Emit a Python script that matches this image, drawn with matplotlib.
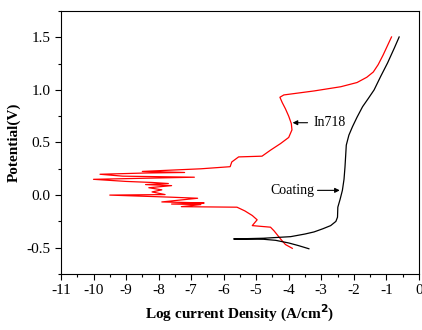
import numpy as np
import matplotlib
matplotlib.use("Agg")
import matplotlib.pyplot as plt
from matplotlib.ticker import MultipleLocator, FormatStrFormatter

plt.rcParams['font.family'] = ['Liberation Serif', 'DejaVu Serif']
plt.rcParams['axes.unicode_minus'] = False

# In718 curve (log i, E)
in718_x = [-3.89, -4.1, -4.25, -4.45, -4.56, -5.12, -4.97, -5.12, -5.35, -5.59, -7.3, -6.7, -7.6, -6.6,
           -7.2, -7.9, -6.8, -7.6, -9.5, -7.8, -8.2, -7.9, -8.3, -7.6, -8.4,
           -7.7, -8.2, -9.0, -10.0, -6.9, -8.0, -9.1, -9.8, -8.4, -7.2, -8.5,
           -6.7, -5.8, -5.75, -5.54, -4.82, -4.56, -4.25, -4.0, -3.9, -3.92, -4.0,
           -4.1, -4.2, -4.27, -4.15, -3.22, -2.40, -1.9, -1.6, -1.4, -1.25, -1.1,
           -0.95, -0.84]
in718_y = [-0.506, -0.47, -0.417, -0.34, -0.305, -0.29, -0.235, -0.194, -0.15, -0.115, -0.11, -0.09, -0.085, -0.075,
           -0.07, -0.065, -0.03, -0.02, 0.0, 0.005, 0.03, 0.05, 0.07, 0.09, 0.10,
           0.11, 0.12, 0.13, 0.15, 0.17, 0.175, 0.18, 0.198, 0.21, 0.215, 0.225,
           0.25, 0.27, 0.315, 0.363, 0.37, 0.427, 0.49, 0.548, 0.62, 0.68, 0.75,
           0.82, 0.88, 0.93, 0.952, 0.99, 1.03, 1.07, 1.12, 1.17, 1.24, 1.33,
           1.43, 1.503]

# Coating curve
coat_x = [-3.38, -3.7, -4.0, -4.4, -4.77, -5.69, -4.77, -3.94, -3.5, -3.22, -2.95, -2.71,
          -2.55, -2.5, -2.49, -2.42, -2.35, -2.3, -2.27, -2.25, -2.23, -2.15, -2.04,
          -1.9, -1.73, -1.55, -1.375, -1.17, -0.963, -0.75, -0.605]
coat_y = [-0.51, -0.48, -0.455, -0.43, -0.42, -0.417, -0.41, -0.395, -0.37, -0.35, -0.32, -0.29,
          -0.25, -0.21, -0.115, -0.04, 0.045, 0.15, 0.267, 0.37, 0.475, 0.57, 0.65,
          0.74, 0.84, 0.92, 1.0, 1.13, 1.255, 1.4, 1.503]

fig = plt.figure(figsize=(4.22, 3.30), dpi=100)
ax = fig.add_axes([0.1445, 0.1697, 0.848, 0.797])

ax.plot(in718_x, in718_y, color='red', lw=0.9)
ax.plot(coat_x, coat_y, color='black', lw=0.9)

ax.annotate('In718', xy=(-3.88, 0.688), xytext=(-3.25, 0.688),
            fontsize=10, va='center', ha='left',
            arrowprops=dict(arrowstyle='-|>', color='black', lw=0.8,
                            mutation_scale=7, shrinkA=2, shrinkB=0))
ax.annotate('Coating', xy=(-2.43, 0.045), xytext=(-3.2, 0.045),
            fontsize=10, va='center', ha='right',
            arrowprops=dict(arrowstyle='-|>', color='black', lw=0.8,
                            mutation_scale=7, shrinkA=0, shrinkB=0))

ax.set_xlim(-11, 0)
ax.set_ylim(-0.75, 1.75)
ax.xaxis.set_major_locator(MultipleLocator(1))
ax.xaxis.set_minor_locator(MultipleLocator(0.5))
ax.yaxis.set_major_locator(MultipleLocator(0.5))
ax.yaxis.set_minor_locator(MultipleLocator(0.25))
ax.yaxis.set_major_formatter(FormatStrFormatter('%.1f'))
ax.tick_params(which='major', direction='out', length=4, width=0.8, labelsize=11)
ax.tick_params(which='minor', direction='out', length=2.5, width=0.8)

ax.set_xlabel('Log current Density (A/cm$^\\mathbf{2}$)', fontsize=11, fontweight='bold')
ax.set_ylabel('Potential(V)', fontsize=11, fontweight='bold')

fig.savefig('out.png', dpi=100)
